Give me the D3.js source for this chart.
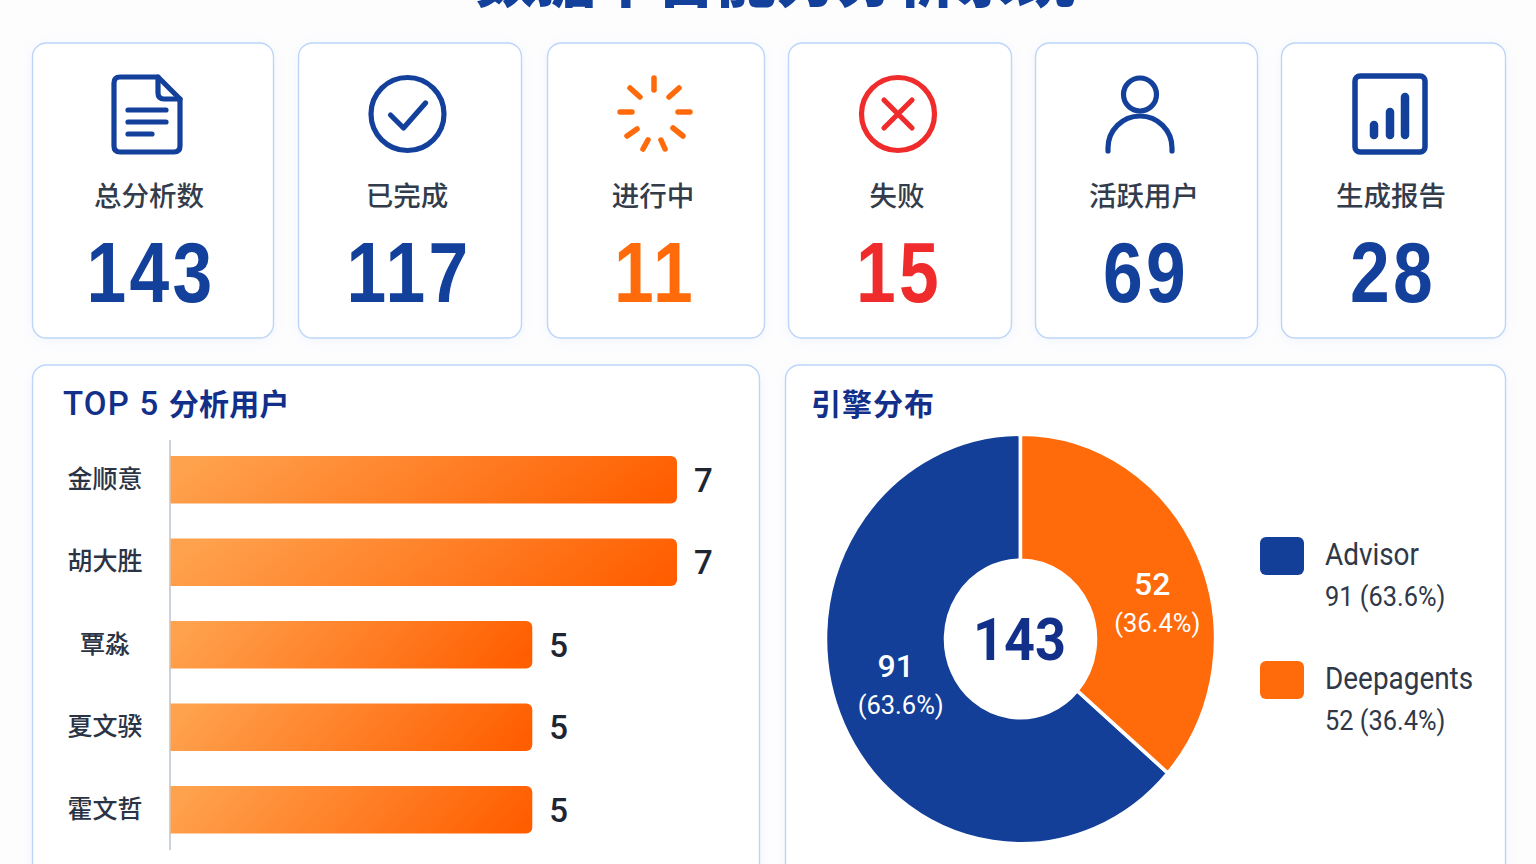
<!DOCTYPE html>
<html lang="zh">
<head>
<meta charset="utf-8">
<title>数据中台能力分析系统</title>
<script src="https://cdnjs.cloudflare.com/ajax/libs/d3/7.8.5/d3.min.js"></script>
<style>
  html, body { margin: 0; padding: 0; background: #fdfdfe; overflow: hidden; }
  svg { display: block; }
  text { font-family: Roboto, "Noto Sans CJK SC", sans-serif; }
  .cjk { font-family: "Noto Sans CJK SC", sans-serif; }
</style>
</head>
<body>
<svg id="board" width="1536" height="864"></svg>
<script>
// Dashboard figures
const pageTitle = "数据中台能力分析系统";
const statLabels = ["总分析数", "已完成", "进行中", "失败", "活跃用户", "生成报告"];
const statValues = [143, 117, 11, 15, 69, 28];
const topUsers = ["金顺意", "胡大胜", "覃淼", "夏文骙", "霍文哲"];
const topUserCounts = [7, 7, 5, 5, 5];
const engines = ["Advisor", "Deepagents"];
const engineCounts = [91, 52];

// Palette and layout constants
const BLUE = "#12409b", NAVY = "#12308a", ORANGE = "#ff6a0a", RED = "#ef2b2b";
const INK = "#2f3848", BORDER = "#bdd6f8";
const statColors = [BLUE, BLUE, ORANGE, RED, BLUE, BLUE];
const cardEdges = [[32, 273], [298, 521], [547, 764], [788, 1011], [1035, 1257], [1281, 1505]];
const textCenters = [149, 407, 653, 897, 1144, 1391];
const iconCenters = [147, 407.5, 655, 898, 1140, 1390];

const svg = d3.select("#board");
const defs = svg.append("defs");

const soft = defs.append("filter").attr("id", "cardShadow")
  .attr("x", "-5%").attr("y", "-5%").attr("width", "110%").attr("height", "110%");
soft.append("feDropShadow").attr("dx", 0).attr("dy", 2).attr("stdDeviation", 5)
  .attr("flood-color", "#9dbcf0").attr("flood-opacity", 0.13);

const barFill = defs.append("linearGradient").attr("id", "barFill")
  .attr("x1", "0%").attr("y1", "44%").attr("x2", "100%").attr("y2", "56%");
barFill.append("stop").attr("offset", "0%").attr("stop-color", "#ffa24e");
barFill.append("stop").attr("offset", "55%").attr("stop-color", "#ff7d24");
barFill.append("stop").attr("offset", "100%").attr("stop-color", "#ff5e00");

// Page heading, mostly above the top edge
svg.append("text").attr("class", "cjk")
  .attr("x", 776).attr("y", 2)
  .attr("text-anchor", "middle")
  .attr("font-size", 60).attr("font-weight", 900)
  .attr("fill", BLUE)
  .text(pageTitle);

// Summary cards
const cards = svg.append("g").selectAll("g")
  .data(statLabels.map((label, i) => ({ label, value: statValues[i], color: statColors[i], edge: cardEdges[i], cx: textCenters[i], icx: iconCenters[i], i })))
  .join("g");

cards.append("rect")
  .attr("x", d => d.edge[0] + 0.5).attr("y", 43)
  .attr("width", d => d.edge[1] - d.edge[0]).attr("height", 295)
  .attr("rx", 14)
  .attr("fill", "#fff").attr("stroke", BORDER).attr("stroke-width", 1.4)
  .attr("filter", "url(#cardShadow)");

cards.append("text").attr("class", "cjk")
  .attr("x", d => d.cx).attr("y", 206)
  .attr("text-anchor", "middle")
  .attr("font-size", 27.5).attr("font-weight", 500).attr("fill", "#333c4b")
  .text(d => d.label);

cards.append("text")
  .attr("transform", d => `translate(${d.cx + 2},301.5) scale(0.83,1)`)
  .attr("text-anchor", "middle")
  .attr("letter-spacing", 4)
  .style("font-family", "'Liberation Sans', Arial, sans-serif")
  .attr("font-size", 86).attr("font-weight", 700)
  .attr("fill", d => d.color)
  .text(d => d.value);

// Line icons, one per card, drawn around their own centre
const iconPainters = [
  g => {
    g.append("path").attr("d", "M-27,-37 H11 L33,-15 V32 Q33,38 27,38 H-27 Q-33,38 -33,32 V-31 Q-33,-37 -27,-37 Z");
    g.append("path").attr("d", "M11,-37 V-21 Q11,-15 17,-15 H33");
    g.append("path").attr("d", "M-19,-4 H19 M-19,8 H19 M-19,20 H5");
  },
  g => {
    g.append("circle").attr("r", 36.5);
    g.append("path").attr("d", "M-17,1 L-4,14 L18,-11");
  },
  g => {
    const spokes = ["M-1,-36 V-24", "M24,-26 L14,-17", "M23,-2 H35", "M18,14 L28,22", "M6,26 L10,35", "M-7,26 L-12,35", "M-18,15 L-28,22", "M-23,-2 H-35", "M-25,-26 L-15,-17"];
    g.selectAll("path").data(spokes).join("path").attr("d", d => d).attr("stroke-width", 5.5);
  },
  g => {
    g.append("circle").attr("r", 36.5);
    g.append("path").attr("d", "M-14,-14 L14,14 M14,-14 L-14,14");
  },
  g => {
    g.append("circle").attr("cy", -19.5).attr("r", 16.5);
    g.append("path").attr("d", "M-32,37 V34 A32,32 0 0 1 32,34 V37");
  },
  g => {
    g.append("rect").attr("x", -35).attr("y", -38).attr("width", 70).attr("height", 76).attr("rx", 5).attr("stroke-width", 5.5);
    g.append("path").attr("d", "M-16,11 V21 M0,-2 V21 M15,-17 V21").attr("stroke-width", 8.5);
  }
];

cards.append("g")
  .attr("transform", d => `translate(${d.icx},114)`)
  .attr("fill", "none")
  .attr("stroke", d => d.color)
  .attr("stroke-width", 5.2)
  .attr("stroke-linecap", "round")
  .attr("stroke-linejoin", "round")
  .each(function (d) { iconPainters[d.i](d3.select(this)); });

// Lower panels run past the bottom of the page
const panels = [[32, 759], [785, 1505]];
svg.append("g").selectAll("rect").data(panels).join("rect")
  .attr("x", d => d[0] + 0.5).attr("y", 365)
  .attr("width", d => d[1] - d[0]).attr("height", 540)
  .attr("rx", 14)
  .attr("fill", "#fff").attr("stroke", BORDER).attr("stroke-width", 1.4)
  .attr("filter", "url(#cardShadow)");

const panelTitle = (x, latin, cjk, spacing) => {
  const t = svg.append("text")
    .attr("x", x).attr("y", 415)
    .attr("font-weight", 700)
    .attr("fill", NAVY);
  if (latin) {
    t.append("tspan").attr("font-size", 33).attr("font-weight", 500).attr("letter-spacing", 1.2).text(latin);
  }
  t.append("tspan").attr("class", "cjk").attr("font-size", 30).attr("letter-spacing", spacing).text(cjk);
};
panelTitle(63, "TOP 5 ", "分析用户", 0.2);
panelTitle(811, "", "引擎分布", 1);

// Horizontal bar chart
const xBar = d3.scaleLinear().domain([0, 7]).range([170.5, 677]);
const yBar = d3.scaleBand().domain(topUsers).range([438.5, 851]).paddingInner(0.424).paddingOuter(0.212);
const barRadius = 6;

const yAxis = svg.append("g")
  .attr("transform", "translate(170,0)")
  .call(d3.axisLeft(yBar).tickSize(0).tickPadding(65));
yAxis.select(".domain").attr("stroke", "#ccd2da").attr("stroke-width", 2).attr("d", "M0,440 V850");
yAxis.selectAll("text").attr("class", "cjk")
  .attr("text-anchor", "middle")
  .attr("font-size", 25).attr("font-weight", 500)
  .attr("fill", "#2b3445");

const barRows = svg.append("g").selectAll("g")
  .data(topUsers.map((name, i) => ({ name, count: topUserCounts[i] })))
  .join("g");

barRows.append("path")
  .attr("d", d => {
    const x0 = xBar(0), x1 = xBar(d.count), y0 = yBar(d.name), y1 = y0 + yBar.bandwidth();
    const p = d3.path();
    p.moveTo(x0, y0);
    p.lineTo(x1 - barRadius, y0);
    p.arcTo(x1, y0, x1, y0 + barRadius, barRadius);
    p.lineTo(x1, y1 - barRadius);
    p.arcTo(x1, y1, x1 - barRadius, y1, barRadius);
    p.lineTo(x0, y1);
    p.closePath();
    return p.toString();
  })
  .attr("fill", "url(#barFill)");

barRows.append("text")
  .attr("x", d => xBar(d.count) + 17)
  .attr("y", d => yBar(d.name) + yBar.bandwidth() / 2 + 12)
  .attr("font-size", 33).attr("font-weight", 500)
  .attr("fill", "#1e2533")
  .text(d => d.count);

// Engine donut, slightly taller than wide
const engineTotal = d3.sum(engineCounts);
const pie = d3.pie().sort(null)
  .startAngle(-2 * Math.PI * engineCounts[0] / engineTotal)
  .endAngle(2 * Math.PI * engineCounts[1] / engineTotal);
const arc = d3.arc().innerRadius(75).outerRadius(195);
const engineColor = d3.scaleOrdinal().domain(engines).range(["#133f99", ORANGE]);
const pct = v => (v / engineTotal * 100).toFixed(1) + "%";
const slices = pie(engineCounts).map((s, i) => ({ ...s, name: engines[i] }));
const donutX = 1020.5, donutY = 639, stretch = 1.05;

const donut = svg.append("g")
  .attr("transform", `translate(${donutX},${donutY}) scale(1,${stretch})`);
donut.selectAll("path").data(slices).join("path")
  .attr("d", arc)
  .attr("fill", d => engineColor(d.name))
  .attr("stroke", "#fff").attr("stroke-width", 3.5);

// Value captions sit near each slice's centroid
const captionShift = { Advisor: [0, 2], Deepagents: [11, 38] };
const captions = svg.append("g").selectAll("g").data(slices).join("g")
  .attr("transform", d => {
    const [cx, cy] = arc.centroid(d);
    const [sx, sy] = captionShift[d.name];
    return `translate(${donutX + cx + sx},${donutY + cy * stretch + sy})`;
  })
  .attr("fill", "#fff");
captions.append("text")
  .attr("x", -2).attr("y", -23)
  .attr("text-anchor", "middle")
  .attr("font-size", 32).attr("font-weight", 500)
  .text(d => d.value);
captions.append("text")
  .attr("x", 3).attr("y", 14)
  .attr("text-anchor", "middle")
  .attr("font-size", 25.5)
  .text(d => `(${pct(d.value)})`);

svg.append("text")
  .attr("transform", `translate(${donutX - 1},660) scale(0.9,1)`)
  .attr("text-anchor", "middle")
  .attr("font-size", 60).attr("font-weight", 700)
  .attr("fill", NAVY)
  .text(engineTotal);

// Legend
const legendY = d3.scalePoint().domain(engines).range([537, 661]);
const legend = svg.append("g").selectAll("g").data(slices).join("g")
  .attr("transform", d => `translate(1260,${legendY(d.name)})`);
legend.append("rect")
  .attr("width", 44).attr("height", 38).attr("rx", 6)
  .attr("fill", d => engineColor(d.name));
legend.append("text")
  .attr("transform", "translate(65,28) scale(0.9,1)")
  .attr("font-size", 31).attr("fill", INK)
  .text(d => d.name);
legend.append("text")
  .attr("transform", "translate(65,69) scale(0.94,1)")
  .attr("font-size", 27).attr("fill", INK)
  .text(d => `${d.value} (${pct(d.value)})`);
</script>
</body>
</html>
